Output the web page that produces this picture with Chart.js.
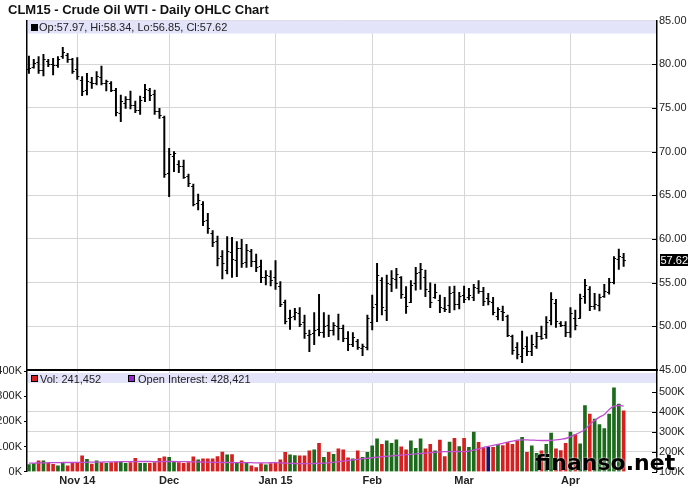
<!DOCTYPE html>
<html>
<head>
<meta charset="utf-8">
<script src="https://cdn.jsdelivr.net/npm/chart.js@4.4.1/dist/chart.umd.min.js"></script>
<style>
body { margin: 0; background: #fff; font-family: "Liberation Sans", Arial, sans-serif; }
#wrap { position: relative; width: 691px; height: 492px; overflow: hidden; }
canvas { position: absolute; left: 0; }
#title { position: absolute; left: 8px; top: 2px; font-weight: bold; font-size: 13px; line-height: 15px; color: #111; white-space: nowrap; }
.txt { position: absolute; font-size: 11px; line-height: 12px; color: #222; white-space: nowrap; }
.sq { position: absolute; width: 5px; height: 5px; border: 1px solid #000; }
#mark { position: absolute; left: 535px; top: 452px; font-family: "DejaVu Sans", sans-serif; font-weight: bold; font-size: 22px; line-height: 22px; color: #000; text-shadow: 0 0 2px #fff; }
</style>
</head>
<body>
<div id="wrap">
  <canvas id="priceChart" width="691" height="380" style="top:0"></canvas>
  <canvas id="volChart" width="691" height="137" style="top:355px"></canvas>
  <div id="title">CLM15 - Crude Oil WTI - Daily OHLC Chart</div>
  <div class="sq" style="left:31px;top:24px;background:#000"></div>
  <div class="txt" id="ohlcText" style="left:39px;top:21px"></div>
  <div class="sq" style="left:31px;top:375px;background:#d42020"></div>
  <div class="txt" id="volText" style="left:40px;top:373px"></div>
  <div class="sq" style="left:128px;top:375px;background:#9a22d8"></div>
  <div class="txt" id="oiText" style="left:138px;top:373px"></div>
  <div id="mark">finanso.net</div>
</div>
<script>
// trading day index of the first session of each month, and its label
const monthStarts = [10, 29, 51, 71, 90, 112];
const monthLabels = ['Nov 14', 'Dec', 'Jan 15', 'Feb', 'Mar', 'Apr'];
const priceTicks = [45, 50, 55, 60, 65, 70, 75, 80, 85];
const volTicks = [0, 100000, 200000, 300000, 400000];
const oiTicks = [100000, 200000, 300000, 400000, 500000];

const highs = [80.94, 80.55, 80.86, 81.13, 80.55, 80.67, 80.86, 81.93, 81.24, 80.67, 80.75,
  78.57, 78.95, 78.50, 79.15, 79.79, 78.19, 78.00, 77.24, 76.47, 76.28, 76.93, 75.79, 76.36, 77.69, 77.24, 77.05, 74.95, 74.07,
  70.37, 69.99, 68.96, 69.03, 67.43, 66.29, 65.14, 64.27, 62.93, 60.95, 60.34, 58.66, 60.26, 60.18, 59.69, 59.95, 59.38, 58.81, 58.28, 57.59, 56.37, 56.37,
  57.51, 55.11, 53.01, 51.87, 52.06, 52.13, 51.29, 49.58, 51.56, 53.66, 51.56, 51.29, 50.42, 51.41, 50.15, 49.39, 49.27, 48.51, 47.97, 51.29,
  53.58, 57.21, 55.57, 55.87, 56.37, 56.64, 55.68, 54.54, 55.22, 56.75, 57.21, 56.45, 54.99, 54.84, 53.58, 53.31, 54.54, 54.61, 53.90,
  54.61, 54.35, 54.80, 55.22, 54.46, 53.77, 53.31, 52.13, 52.32, 51.29, 49.00, 48.13, 49.46, 48.81, 49.00, 49.31, 50.03, 51.10, 53.85, 53.09, 50.53, 50.53,
  52.13, 51.87, 53.69, 55.38, 54.54, 53.77, 53.69, 54.80, 55.49, 57.97, 58.85, 58.34];
const lows = [78.95, 79.53, 78.95, 78.65, 79.72, 78.76, 79.64, 80.67, 80.21, 78.95, 78.27,
  76.40, 76.47, 77.24, 77.62, 77.62, 76.93, 76.85, 74.07, 73.42, 74.95, 74.87, 74.45, 74.26, 75.71, 75.83, 74.26, 73.80, 67.05,
  64.84, 67.70, 67.58, 66.94, 65.98, 63.77, 63.31, 61.52, 60.64, 59.12, 56.90, 55.41, 55.99, 55.60, 55.68, 56.75, 56.75, 56.83, 56.25, 54.99, 54.73, 54.61,
  54.23, 52.25, 50.27, 49.65, 50.72, 49.96, 48.62, 47.10, 47.90, 48.89, 48.74, 48.81, 49.00, 48.43, 48.24, 47.21, 47.67, 47.36, 46.64, 47.29,
  49.58, 50.53, 51.29, 50.64, 53.96, 54.35, 53.20, 51.48, 52.71, 54.15, 54.23, 53.39, 52.13, 53.20, 51.56, 51.68, 51.56, 51.87, 52.00,
  52.71, 53.01, 52.94, 53.77, 52.36, 52.44, 51.29, 50.72, 50.64, 48.81, 46.79, 46.26, 45.84, 46.64, 46.64, 47.48, 48.51, 48.62, 50.15, 49.88, 49.96, 48.81,
  48.74, 49.58, 50.91, 52.63, 51.79, 51.94, 51.75, 53.31, 53.69, 54.84, 56.52, 56.85];
const opens = [79.5, 79.7, 80.2, 79.3, 80.4, 80.0, 79.9, 80.9, 81.0, 80.6, 79.4,
  78.2, 77.0, 78.0, 77.8, 78.5, 77.9, 77.9, 77.0, 74.4, 75.6, 76.0, 75.3, 74.8, 76.2, 77.1, 76.6, 74.6, 73.9,
  67.5, 69.5, 68.6, 68.3, 67.2, 66.1, 64.1, 64.0, 62.2, 60.7, 59.8, 58.0, 56.5, 58.5, 57.6, 59.0, 57.4, 58.6, 57.5, 56.9, 55.6, 55.8,
  55.6, 54.6, 52.8, 50.9, 51.2, 51.5, 50.5, 49.0, 49.2, 49.7, 49.3, 50.1, 49.6, 50.0, 49.8, 48.7, 48.0, 48.3, 47.5, 47.6,
  50.5, 52.6, 55.3, 51.9, 54.8, 55.4, 55.6, 53.4, 52.8, 55.0, 56.2, 55.6, 54.0, 53.4, 53.0, 52.1, 52.4, 53.9, 52.6,
  53.6, 53.3, 53.3, 54.4, 54.0, 53.2, 52.8, 51.2, 51.8, 51.2, 48.9, 47.6, 46.6, 47.8, 47.2, 47.8, 48.9, 49.1, 50.7, 52.7, 50.4, 50.1,
  49.4, 51.0, 51.0, 53.5, 54.3, 52.3, 52.4, 53.5, 53.9, 55.1, 57.7, 57.97];
const closes = [79.6, 80.1, 79.3, 80.6, 80.0, 79.9, 80.6, 81.4, 80.6, 79.2, 78.6,
  76.9, 78.1, 77.8, 78.6, 77.9, 78.1, 77.1, 74.5, 75.8, 76.0, 75.3, 74.8, 75.9, 77.2, 76.5, 74.6, 74.2, 67.4,
  69.7, 69.8, 68.4, 67.1, 66.4, 64.0, 64.5, 62.0, 61.3, 59.6, 57.8, 57.2, 58.6, 57.7, 59.0, 57.3, 58.7, 57.5, 56.8, 55.6, 55.9, 55.3,
  54.9, 52.5, 50.6, 51.1, 51.6, 50.3, 49.2, 49.1, 49.6, 49.4, 50.0, 49.6, 50.1, 49.8, 48.7, 48.0, 48.8, 47.6, 47.8, 51.0,
  52.2, 55.9, 52.2, 55.0, 55.5, 56.0, 53.7, 52.3, 54.7, 56.1, 56.6, 54.3, 52.8, 53.9, 52.2, 52.0, 53.8, 52.5, 53.5,
  53.1, 53.6, 54.5, 54.0, 52.9, 52.9, 51.6, 52.0, 51.6, 49.0, 47.3, 46.8, 47.5, 47.2, 48.0, 48.9, 48.7, 50.5, 53.1, 50.6, 50.2, 49.4,
  51.5, 50.2, 53.2, 54.7, 52.3, 52.6, 53.4, 54.0, 55.1, 57.8, 58.1, 57.62];
const volumes = [28000, 32000, 43000, 43000, 33000, 29000, 23000, 33000, 23000, 33000, 36000,
  63000, 49000, 30000, 43000, 36000, 33000, 36000, 39000, 39000, 33000, 36000, 53000, 33000, 33000, 33000, 36000, 53000, 59000,
  57000, 39000, 36000, 33000, 36000, 59000, 47000, 51000, 51000, 51000, 60000, 78000, 67000, 68000, 37000, 43000, 37000, 23000, 16000, 32000, 27000, 32000,
  33000, 47000, 77000, 67000, 64000, 63000, 63000, 83000, 87000, 113000, 57000, 77000, 69000, 91000, 87000, 55000, 51000, 83000, 57000, 77000,
  103000, 131000, 109000, 123000, 113000, 127000, 99000, 87000, 123000, 93000, 131000, 91000, 109000, 83000, 126000, 60000, 118000, 133000, 100000,
  133000, 97000, 157000, 117000, 93000, 97000, 97000, 109000, 104000, 117000, 109000, 123000, 137000, 77000, 103000, 73000, 83000, 109000, 153000, 91000, 84000, 113000,
  157000, 147000, 111000, 263000, 229000, 209000, 187000, 171000, 229000, 333000, 269000, 241452];
const openInterest = [143000, 143000, 144000, 144000, 145000, 145000, 145000, 146000, 146000, 146000, 147000,
  147000, 147000, 148000, 148000, 148000, 149000, 149000, 149000, 150000, 150000, 150000, 150000, 151000, 151000, 151000, 150000, 150000, 151000,
  151000, 151000, 150000, 150000, 150000, 149000, 149000, 148000, 148000, 147000, 147000, 146000, 146000, 146000, 145000, 145000, 145000, 145000, 144000, 144000, 144000, 145000,
  145000, 144000, 143000, 142000, 141000, 140000, 140000, 140000, 141000, 142000, 143000, 145000, 147000, 150000, 153000, 156000, 159000, 162000, 165000, 167000,
  170000, 172000, 175000, 177000, 179000, 181000, 183000, 185000, 187000, 189000, 191000, 193000, 195000, 197000, 199000, 200000, 200000, 201000, 201000,
  200000, 203000, 208000, 214000, 221000, 227000, 232000, 236000, 242000, 248000, 253000, 258000, 259000, 259000, 258000, 257000, 256000, 256000, 257000, 259000, 262000, 266000,
  275000, 285000, 297000, 311000, 336000, 356000, 373000, 386000, 411000, 428000, 431000, 428421];

const GRID = '#d6d6d6';
const last = closes.length - 1;
const fmt = n => n.toLocaleString('en-US');

document.getElementById('ohlcText').textContent =
  'Op:' + opens[last].toFixed(2) + ', Hi:' + highs[last].toFixed(2) +
  ', Lo:' + lows[last].toFixed(2) + ', Cl:' + closes[last].toFixed(2);
document.getElementById('volText').textContent = 'Vol: ' + fmt(volumes[last]);
document.getElementById('oiText').textContent = 'Open Interest: ' + fmt(openInterest[last]);

const days = closes.map((c, i) => i);
const barColors = closes.map((c, i) => {
  if (i === 0 || c > closes[i - 1]) return '#1b6b1b';
  if (c < closes[i - 1]) return '#d42020';
  return '#14146e';
});

const setTicks = list => s => { s.ticks = list.map(v => ({ value: v })); };

function monthAxis(showLabels) {
  return {
    type: 'linear',
    min: -0.4,
    max: 129.9,
    offset: false,
    afterBuildTicks: setTicks(monthStarts),
    afterFit: s => { s.height = showLabels ? 20.3 : 0; },
    ticks: {
      display: showLabels,
      autoSkip: false,
      maxRotation: 0,
      padding: 3,
      color: '#222',
      font: { family: 'Liberation Sans', size: 11, weight: 'bold' },
      callback: v => monthLabels[monthStarts.indexOf(v)]
    },
    grid: { color: GRID, drawTicks: false, offset: false },
    border: showLabels ? { display: false } : { display: true, color: '#000', width: 2 }
  };
}

// inward tick marks on the right axes, the lavender info band, last price box
function panelDecor(axisId, bandTop, bandHeight, showLast) {
  return {
    id: 'decor_' + axisId,
    beforeDatasetsDraw(chart) {
      const { ctx, chartArea: a } = chart;
      ctx.save();
      ctx.fillStyle = '#e3e3f9';
      ctx.fillRect(a.left + 1, a.top + bandTop, a.right - a.left - 2, bandHeight);
      ctx.restore();
    },
    afterDraw(chart) {
      const { ctx, chartArea: a } = chart;
      const sc = chart.scales[axisId];
      ctx.save();
      ctx.strokeStyle = '#000';
      ctx.lineWidth = 1;
      sc.ticks.forEach(t => {
        const py = Math.round(sc.getPixelForValue(t.value)) + 0.5;
        if (py < a.top + 3 || py > a.bottom + 1) return;
        ctx.beginPath();
        ctx.moveTo(a.right - 5, py);
        ctx.lineTo(a.right, py);
        ctx.stroke();
      });
      if (showLast) {
        const py = Math.round(sc.getPixelForValue(closes[last]));
        ctx.fillStyle = '#000';
        ctx.fillRect(a.right + 3, py - 6, 28, 12);
        ctx.fillStyle = '#fff';
        ctx.font = '11px "Liberation Sans"';
        ctx.textBaseline = 'middle';
        ctx.fillText(closes[last].toFixed(2), a.right + 3.5, py + 0.5);
      }
      ctx.restore();
    }
  };
}

const ohlcTicks = {
  id: 'ohlcTicks',
  afterDatasetsDraw(chart) {
    const { ctx } = chart;
    const y = chart.scales.y;
    const meta = chart.getDatasetMeta(0);
    ctx.save();
    ctx.strokeStyle = '#000';
    ctx.lineWidth = 1;
    ctx.beginPath();
    meta.data.forEach((bar, i) => {
      const yo = Math.round(y.getPixelForValue(opens[i])) + 0.5;
      const yc = Math.round(y.getPixelForValue(closes[i])) + 0.5;
      ctx.moveTo(bar.x - 2.2, yo); ctx.lineTo(bar.x, yo);
      ctx.moveTo(bar.x, yc); ctx.lineTo(bar.x + 2.2, yc);
    });
    ctx.stroke();
    ctx.restore();
  }
};

const labelFont = { family: 'Liberation Sans', size: 11 };

new Chart(document.getElementById('priceChart'), {
  type: 'bar',
  data: {
    datasets: [{
      data: days.map(i => ({ x: i, y: [lows[i], highs[i]] })),
      backgroundColor: '#000',
      borderWidth: 0,
      barThickness: 1.3,
      yAxisID: 'y'
    }]
  },
  options: {
    responsive: false,
    animation: false,
    layout: { padding: { top: 20.5, bottom: 10, left: 0, right: 0 } },
    plugins: { legend: { display: false }, tooltip: { enabled: false } },
    scales: {
      x: monthAxis(false),
      y: {
        position: 'right',
        min: 45,
        max: 85,
        afterBuildTicks: setTicks(priceTicks),
        afterFit: s => { s.width = 34; },
        ticks: { padding: 2, color: '#222', font: labelFont, callback: v => v.toFixed(2) },
        grid: { color: GRID, drawTicks: false },
        border: { color: '#000', width: 1.5 }
      },
      yl: {
        position: 'left',
        min: 45,
        max: 85,
        afterFit: s => { s.width = 27; },
        ticks: { display: false },
        grid: { drawOnChartArea: false, drawTicks: false },
        border: { color: '#000', width: 1.5 }
      }
    }
  },
  plugins: [panelDecor('y', 0, 13, true), ohlcTicks]
});

new Chart(document.getElementById('volChart'), {
  type: 'bar',
  data: {
    datasets: [{
      type: 'line',
      data: days.map(i => ({ x: i, y: openInterest[i] })),
      yAxisID: 'oi',
      borderColor: '#c04ed2',
      borderWidth: 1.3,
      pointRadius: 0,
      tension: 0.3,
      order: 0
    }, {
      data: days.map(i => ({ x: i, y: volumes[i] })),
      yAxisID: 'vol',
      backgroundColor: barColors,
      borderWidth: 0,
      barThickness: 3,
      order: 1
    }]
  },
  options: {
    responsive: false,
    animation: false,
    layout: { padding: { top: 16, bottom: 0, left: 0, right: 0 } },
    plugins: { legend: { display: false }, tooltip: { enabled: false } },
    scales: {
      x: monthAxis(true),
      vol: {
        position: 'left',
        min: 0,
        max: 400000,
        afterBuildTicks: setTicks(volTicks),
        afterFit: s => { s.width = 27; },
        ticks: { padding: 2, color: '#222', font: labelFont, callback: v => (v / 1000) + 'K' },
        grid: { drawOnChartArea: false, drawTicks: true, tickLength: 3, tickColor: '#000' },
        border: { color: '#000', width: 1.5 }
      },
      oi: {
        position: 'right',
        min: 100000,
        max: 603500,
        afterBuildTicks: setTicks(oiTicks),
        afterFit: s => { s.width = 34; },
        ticks: { padding: 2, color: '#222', font: labelFont, callback: v => (v / 1000) + 'K' },
        grid: {
          drawTicks: false,
          color: c => (c.tick && c.tick.value >= 200000 && c.tick.value <= 400000) ? GRID : 'rgba(0,0,0,0)'
        },
        border: { color: '#000', width: 1.5 }
      }
    }
  },
  plugins: [panelDecor('oi', 2, 10, false)]
});
</script>
</body>
</html>
